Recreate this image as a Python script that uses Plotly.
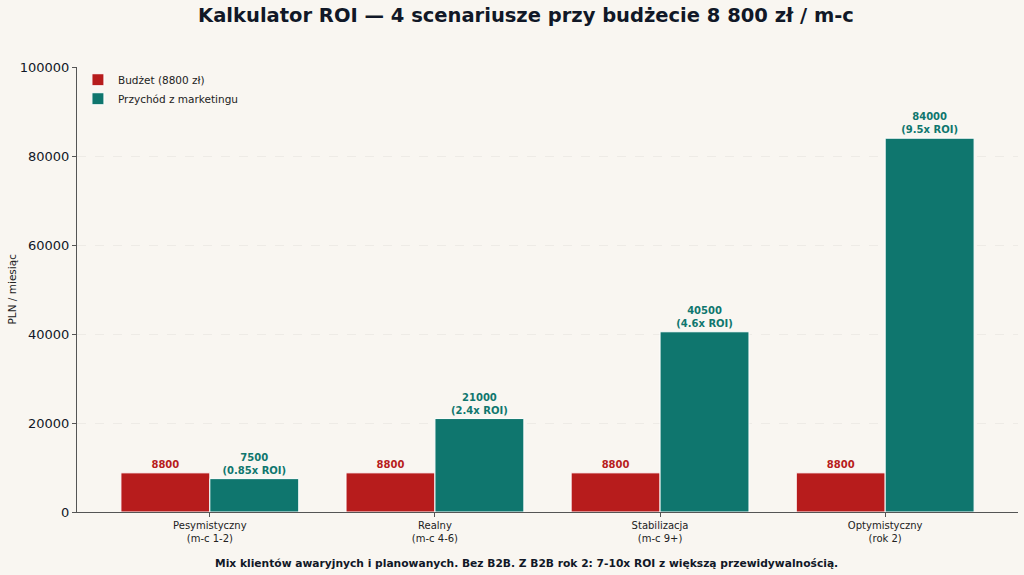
import plotly.graph_objects as go

categories = ["Pesymistyczny<br>(m-c 1-2)", "Realny<br>(m-c 4-6)", "Stabilizacja<br>(m-c 9+)", "Optymistyczny<br>(rok 2)"]
budget = [8800, 8800, 8800, 8800]
revenue = [7500, 21000, 40500, 84000]
roi_labels = ["0.85x ROI", "2.4x ROI", "4.6x ROI", "9.5x ROI"]
y_ticks = [0, 20000, 40000, 60000, 80000, 100000]

RED = "#b71c1c"
TEAL = "#0f766e"
BG = "#f9f6f1"
DARK = "#111827"
FONT = "DejaVu Sans"

pos = list(range(len(categories)))

fig = go.Figure()
fig.add_trace(go.Bar(
    x=pos, y=budget, name="Budżet (8800 zł)", marker=dict(color=RED, line=dict(color="white", width=1)),
    width=0.395, offset=-0.395,
    text=[f"<b>{v}</b>" for v in budget], textposition="outside",
    textfont=dict(color=RED, size=10, family=FONT), cliponaxis=False,
))
fig.add_trace(go.Bar(
    x=pos, y=revenue, name="Przychód z marketingu", marker=dict(color=TEAL, line=dict(color="white", width=1)),
    width=0.395, offset=0.0,
    text=[f"<b>{v}<br>({r})</b>" for v, r in zip(revenue, roi_labels)], textposition="outside",
    textfont=dict(color=TEAL, size=10, family=FONT), cliponaxis=False,
))

fig.update_layout(
    width=1024, height=575,
    paper_bgcolor=BG, plot_bgcolor=BG,
    margin=dict(l=77, r=6, t=67, b=63, autoexpand=False),
    barmode="overlay",
    font=dict(family=FONT, color=DARK),
    title=dict(text="<b>Kalkulator ROI — 4 scenariusze przy budżecie 8 800 zł / m-c</b>",
               x=526/1024, xanchor="center", y=1-15/575, yanchor="middle",
               font=dict(size=19.5, color=DARK, family=FONT)),
    legend=dict(x=0.001, y=1.004, xanchor="left", yanchor="top", bgcolor="rgba(0,0,0,0)",
                font=dict(size=10.5, color="#222"), itemwidth=30),
    showlegend=True,
    xaxis=dict(
        range=[-0.59, 3.59], tickmode="array", tickvals=pos, ticktext=categories,
        showgrid=False, zeroline=False, showline=True, linecolor="#555", linewidth=1,
        ticks="outside", ticklen=4, tickcolor="#555", automargin=False,
        tickfont=dict(size=10, color="#222"),
    ),
    yaxis=dict(
        range=[0, 100000], tickvals=y_ticks, tickformat="d",
        showgrid=True, gridcolor="rgba(0,0,0,0.045)", griddash="dash", gridwidth=1,
        zeroline=False, showline=True, linecolor="#555", linewidth=1,
        ticks="outside", ticklen=4, tickcolor="#555", automargin=False,
        tickfont=dict(size=13, color=DARK),
    ),
)

fig.add_annotation(
    text="PLN / miesiąc", textangle=-90,
    xref="paper", yref="paper", x=-(77-11)/941, y=0.5, xanchor="center", yanchor="middle",
    showarrow=False, font=dict(size=10.5, color="#222", family=FONT),
)

fig.add_annotation(
    text="<b>Mix klientów awaryjnych i planowanych. Bez B2B. Z B2B rok 2: 7-10x ROI z większą przewidywalnością.</b>",
    xref="paper", yref="paper", x=(526-77)/941, y=-(563-512)/445, xanchor="center", yanchor="middle",
    showarrow=False, font=dict(size=10.7, color=DARK, family=FONT),
)

fig.write_html("out.html")
